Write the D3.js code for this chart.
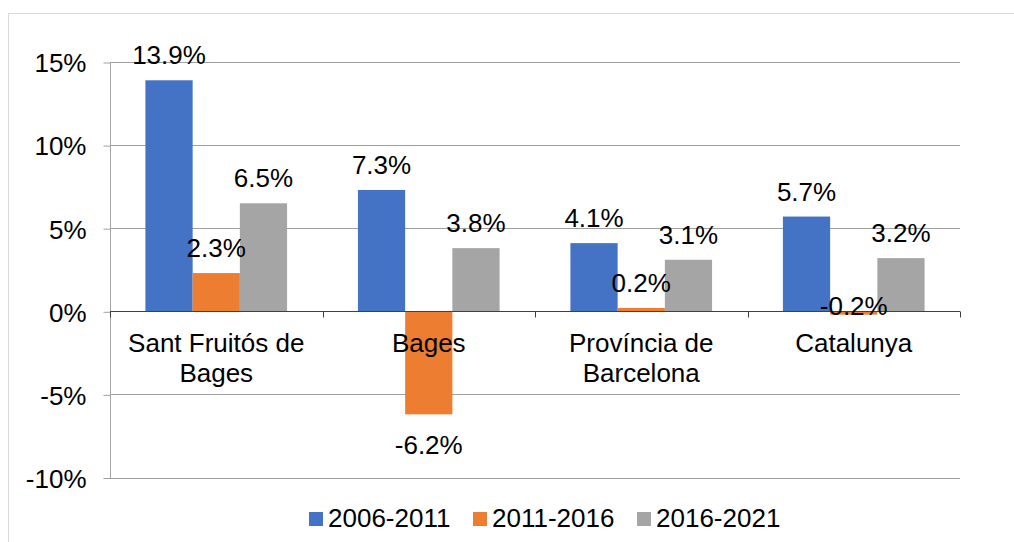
<!DOCTYPE html>
<html>
<head>
<meta charset="utf-8">
<script src="https://cdn.jsdelivr.net/npm/d3@7"></script>
<style>
  html, body { margin: 0; padding: 0; background: #fff; }
  svg { display: block; }
  text { font-family: "Liberation Sans", Arial, sans-serif; fill: #000; }
</style>
</head>
<body>
<svg id="chart" width="1014" height="542"></svg>
<script>
const categories = [["Sant Fruitós de", "Bages"], ["Bages"], ["Província de", "Barcelona"], ["Catalunya"]];
const seriesNames = ["2006-2011", "2011-2016", "2016-2021"];
const s2006_2011 = [13.9, 7.3, 4.1, 5.7];
const s2011_2016 = [2.3, -6.2, 0.2, -0.2];
const s2016_2021 = [6.5, 3.8, 3.1, 3.2];
const yTicks = [-10, -5, 0, 5, 10, 15];
const colors = ["#4472C4", "#ED7D31", "#A5A5A5"];

const seriesValues = [s2006_2011, s2011_2016, s2016_2021];
const catKeys = categories.map(c => c.join(" "));

const svg = d3.select("#chart");
const W = 1014, H = 542;
const plot = { left: 110, right: 960, top: 62, bottom: 477.5 };
const FS = 26;

// outer border
svg.append("rect")
  .attr("x", 8.5).attr("y", 13.5)
  .attr("width", W).attr("height", H)
  .attr("fill", "none").attr("stroke", "#d9d9d9").attr("stroke-width", 1);

const y = d3.scaleLinear().domain([-10, 15]).range([plot.bottom, plot.top]);
const x0 = d3.scaleBand().domain(catKeys).range([plot.left, plot.right]).padding(0);
const x1 = d3.scaleBand().domain(seriesNames).range([0, x0.bandwidth()])
  .paddingInner(0).paddingOuter(0.75);

// gridlines
svg.append("g").selectAll("line").data(yTicks.filter(t => t !== 0)).join("line")
  .attr("x1", plot.left).attr("x2", plot.right)
  .attr("y1", d => Math.round(y(d)) + 0.5).attr("y2", d => Math.round(y(d)) + 0.5)
  .attr("stroke", "#a0a0a0").attr("stroke-width", 1);

// left axis
const yAxis = d3.axisLeft(y).tickValues(yTicks).tickSize(7).tickPadding(17)
  .tickFormat(d => d + "%");
const gy = svg.append("g").attr("transform", `translate(${plot.left + 0.5},0.5)`).call(yAxis);
gy.select(".domain").attr("stroke", "#a6a6a6").attr("d", `M0,${plot.top}V${plot.bottom}`);
gy.selectAll(".tick line").attr("stroke", "#a0a0a0");
gy.selectAll(".tick text")
  .style("font-family", '"Liberation Sans", Arial, sans-serif')
  .style("font-size", FS + "px").attr("fill", "#000").attr("dy", "0.36em");

// bars
const data = [];
categories.forEach((c, i) => {
  seriesNames.forEach((s, j) => {
    data.push({ cat: catKeys[i], series: s, value: seriesValues[j][i], color: colors[j] });
  });
});

svg.append("g").selectAll("rect").data(data).join("rect")
  .attr("x", d => x0(d.cat) + x1(d.series))
  .attr("width", x1.bandwidth())
  .attr("y", d => Math.min(y(d.value), y(0)))
  .attr("height", d => Math.abs(y(d.value) - y(0)))
  .attr("fill", d => d.color);

// zero axis with category ticks
const xAxis = d3.axisBottom(x0).tickSize(0).tickFormat("");
const zeroY = Math.round(y(0)) + 0.5;
const gx = svg.append("g");
gx.append("line").attr("x1", plot.left).attr("x2", plot.right)
  .attr("y1", zeroY).attr("y2", zeroY).attr("stroke", "#404040").attr("stroke-width", 1);
const bounds = catKeys.map(k => x0(k)).concat([plot.right]);
gx.selectAll("line.ct").data(bounds).join("line").attr("class", "ct")
  .attr("x1", d => Math.round(d) + 0.5).attr("x2", d => Math.round(d) + 0.5)
  .attr("y1", zeroY).attr("y2", zeroY + 6)
  .attr("stroke", "#404040");

// category labels
const catG = svg.append("g");
categories.forEach((lines, i) => {
  const cx = x0(catKeys[i]) + x0.bandwidth() / 2;
  const t = catG.append("text").attr("text-anchor", "middle").style("font-size", FS + "px");
  lines.forEach((ln, k) => {
    t.append("tspan").attr("x", cx).attr("y", y(0) + 41 + k * 30).text(ln);
  });
});

// data labels
svg.append("g").selectAll("text").data(data).join("text")
  .attr("text-anchor", "middle")
  .style("font-size", FS + "px")
  .attr("x", d => x0(d.cat) + x1(d.series) + x1.bandwidth() / 2)
  .attr("y", d => {
    if (d.value >= 0) return y(d.value) - 16;
    const len = y(d.value) - y(0);
    return len < 20 ? y(0) + 4 : y(d.value) + 40;
  })
  .text(d => d.value.toFixed(1) + "%");

// legend
const legend = svg.append("g");
const legendX = [309, 473, 637];
seriesNames.forEach((s, j) => {
  legend.append("rect").attr("x", legendX[j]).attr("y", 512).attr("width", 14).attr("height", 14)
    .attr("fill", colors[j]);
  legend.append("text").attr("x", legendX[j] + 19).attr("y", 527)
    .style("font-size", FS + "px").text(s);
});
</script>
</body>
</html>
